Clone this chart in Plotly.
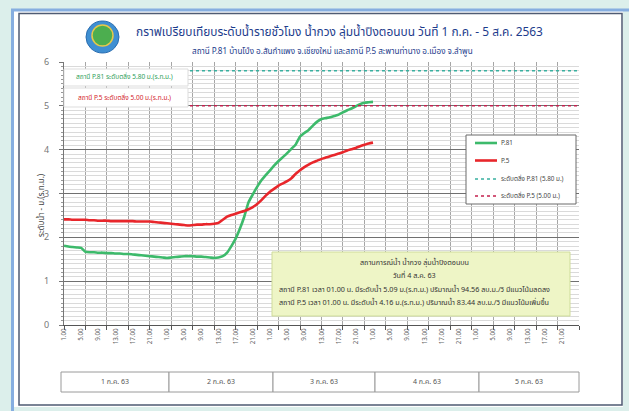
import plotly.graph_objects as go

# ---------------- data ----------------
hour_labels = ["1.00", "5.00", "9.00", "13.00", "17.00", "21.00"] * 5
label_positions = list(range(0, 120, 4))
day_labels = ["1 ก.ค. 63", "2 ก.ค. 63", "3 ก.ค. 63", "4 ก.ค. 63", "5 ก.ค. 63"]

hours = list(range(0, 73))
p81 = [1.81, 1.79, 1.78, 1.77, 1.76, 1.67, 1.66, 1.66, 1.65, 1.65,
       1.64, 1.64, 1.63, 1.63, 1.62, 1.62, 1.61, 1.60, 1.59, 1.58,
       1.57, 1.56, 1.55, 1.54, 1.53, 1.54, 1.55, 1.56, 1.57, 1.57,
       1.57, 1.56, 1.56, 1.55, 1.54, 1.53, 1.54, 1.57, 1.65, 1.80,
       1.97, 2.20, 2.47, 2.80, 2.98, 3.15, 3.30, 3.42, 3.53, 3.64,
       3.74, 3.83, 3.92, 4.02, 4.12, 4.30, 4.38, 4.45, 4.55, 4.64,
       4.70, 4.72, 4.74, 4.77, 4.80, 4.85, 4.90, 4.94, 4.99, 5.04,
       5.07, 5.08, 5.09]
p5 = [2.41, 2.41, 2.40, 2.40, 2.40, 2.40, 2.39, 2.39, 2.38, 2.38,
      2.38, 2.37, 2.37, 2.37, 2.37, 2.37, 2.37, 2.36, 2.36, 2.36,
      2.36, 2.35, 2.34, 2.33, 2.32, 2.31, 2.30, 2.29, 2.28, 2.27,
      2.28, 2.29, 2.29, 2.30, 2.30, 2.31, 2.33, 2.40, 2.47, 2.51,
      2.54, 2.57, 2.60, 2.64, 2.69, 2.76, 2.85, 2.95, 3.04, 3.11,
      3.18, 3.23, 3.28, 3.35, 3.45, 3.53, 3.60, 3.66, 3.71, 3.75,
      3.79, 3.82, 3.85, 3.88, 3.91, 3.94, 3.98, 4.01, 4.04, 4.08,
      4.11, 4.14, 4.16]
bank_p81 = 5.80
bank_p5 = 5.00
threshold_span = [0, 120]
series_names = ["P.81", "P.5", "ระดับตลิ่ง P.81 (5.80 ม.)", "ระดับตลิ่ง P.5 (5.00 ม.)"]

FONT = "Tahoma, 'Noto Sans Thai', 'Leelawadee UI', 'DejaVu Sans', sans-serif"
W, H = 629, 411
L, R, T, B = 64, 50, 62, 86
PW, PH = W - L - R, H - T - B


def px(x):
    return (x - L) / PW


def py(y):
    return (H - B - y) / PH


GREEN = "#3dba6b"
RED = "#e8262b"
GREEN_DOT = "#39b0a0"
RED_DOT = "#c4204e"

fig = go.Figure()
fig.add_trace(go.Scatter(x=hours, y=p81, mode="lines", name=series_names[0],
                         line=dict(color=GREEN, width=2.6, shape="spline", smoothing=0.5)))
fig.add_trace(go.Scatter(x=hours, y=p5, mode="lines", name=series_names[1],
                         line=dict(color=RED, width=2.6, shape="spline", smoothing=0.5)))
fig.add_trace(go.Scatter(x=threshold_span, y=[bank_p81] * 2, mode="lines",
                         name=series_names[2],
                         line=dict(color=GREEN_DOT, width=1.5, dash="dot")))
fig.add_trace(go.Scatter(x=threshold_span, y=[bank_p5] * 2, mode="lines",
                         name=series_names[3],
                         line=dict(color=RED_DOT, width=1.5, dash="dot")))

shapes = []
# outer frame
shapes.append(dict(type="rect", xref="paper", yref="paper", layer="below",
                   x0=px(12), x1=px(623), y0=py(10), y1=py(407),
                   fillcolor="white", line=dict(width=0)))
shapes.append(dict(type="line", xref="paper", yref="paper", layer="below",
                   x0=px(12.5), x1=px(12.5), y0=py(9), y1=py(411),
                   line=dict(color="#86aee0", width=3)))
shapes.append(dict(type="line", xref="paper", yref="paper", layer="below",
                   x0=px(11), x1=px(629), y0=py(10), y1=py(10),
                   line=dict(color="#86aee0", width=3)))
shapes.append(dict(type="rect", xref="paper", yref="paper", layer="below",
                   x0=px(19), x1=px(622), y0=py(13.5), y1=py(405),
                   line=dict(color="#4f5b73", width=1.5)))
# logo
shapes.append(dict(type="circle", xref="paper", yref="paper", layer="above",
                   x0=px(86), x1=px(119), y0=py(21), y1=py(53),
                   fillcolor="#3f8fd2", line=dict(color="#2a6db0", width=1)))
shapes.append(dict(type="circle", xref="paper", yref="paper", layer="above",
                   x0=px(92), x1=px(113), y0=py(25), y1=py(46),
                   fillcolor="#4cae4f", line=dict(color="#e6c84a", width=1.5)))
# threshold label boxes
shapes.append(dict(type="rect", xref="paper", yref="paper", layer="above",
                   x0=px(64), x1=px(188), y0=py(69), y1=py(86),
                   fillcolor="white", line=dict(color="#dddddd", width=1)))
shapes.append(dict(type="rect", xref="paper", yref="paper", layer="above",
                   x0=px(64), x1=px(188), y0=py(88), y1=py(107),
                   fillcolor="white", line=dict(color="#dddddd", width=1)))
# info box
shapes.append(dict(type="rect", xref="paper", yref="paper", layer="above",
                   x0=px(272), x1=px(570), y0=py(252), y1=py(316),
                   fillcolor="#eef5c6", line=dict(color="#cfdc9a", width=1)))
# legend box (drawn manually)
shapes.append(dict(type="rect", xref="paper", yref="paper", layer="above",
                   x0=px(466), x1=px(576), y0=py(135), y1=py(204),
                   fillcolor="white", line=dict(color="#6a6a6a", width=1)))
legend_rows = [143, 160.5, 179, 196]
legend_styles = [(GREEN, 2.6, "solid"), (RED, 2.6, "solid"),
                 (GREEN_DOT, 1.4, "dot"), (RED_DOT, 1.4, "dot")]
for yy, (c, w, d) in zip(legend_rows, legend_styles):
    shapes.append(dict(type="line", xref="paper", yref="paper", layer="above",
                       x0=px(475), x1=px(497), y0=py(yy), y1=py(yy),
                       line=dict(color=c, width=w, dash=d)))
# day boxes
day_edges = [61, 169, 273, 375, 479, 579]
for i in range(5):
    shapes.append(dict(type="rect", xref="paper", yref="paper", layer="above",
                       x0=px(day_edges[i]), x1=px(day_edges[i + 1]),
                       y0=py(372), y1=py(392),
                       fillcolor="white", line=dict(color="#9a9a9a", width=1)))

annotations = []
annotations.append(dict(xref="paper", yref="paper", x=px(339), y=py(42.5),
                        text="กราฟเปรียบเทียบระดับน้ำรายชั่วโมง น้ำกวง ลุ่มน้ำปิงตอนบน วันที่ 1 ก.ค. - 5 ส.ค. 2563",
                        showarrow=False, font=dict(family=FONT, size=11.9, color="#1d3c8c"),
                        xanchor="center", yanchor="bottom"))
annotations.append(dict(xref="paper", yref="paper", x=px(332), y=py(42.5),
                        text="สถานี P.81 บ้านโป่ง อ.สันกำแพง จ.เชียงใหม่ และสถานี P.5 สะพานท่านาง อ.เมือง จ.ลำพูน",
                        showarrow=False, font=dict(family=FONT, size=8.1, color="#1d3c8c"),
                        xanchor="center", yanchor="top"))
annotations.append(dict(xref="paper", yref="paper", x=px(41), y=py(205),
                        text="ระดับน้ำ - ม.(ร.ท.ม.)", textangle=-90,
                        showarrow=False, font=dict(family=FONT, size=8, color="#444444"),
                        xanchor="center", yanchor="middle"))
annotations.append(dict(xref="paper", yref="paper", x=px(124), y=py(77),
                        text="สถานี P.81 ระดับตลิ่ง 5.80 ม.(ร.ท.ม.)",
                        showarrow=False, font=dict(family=FONT, size=6.5, color="#2e9e58"),
                        xanchor="center", yanchor="middle"))
annotations.append(dict(xref="paper", yref="paper", x=px(124), y=py(97.5),
                        text="สถานี P.5 ระดับตลิ่ง 5.00 ม.(ร.ท.ม.)",
                        showarrow=False, font=dict(family=FONT, size=6.5, color="#d3242c"),
                        xanchor="center", yanchor="middle"))
info_lines = [
    (262, "สถานการณ์น้ำ น้ำกวง ลุ่มน้ำปิงตอนบน"),
    (275, "วันที่ 4 ส.ค. 63"),
    (289, "สถานี P.81 เวลา 01.00 น. มีระดับน้ำ 5.09 ม.(ร.ท.ม.) ปริมาณน้ำ 94.56 ลบ.ม./วิ มีแนวโน้มลดลง"),
    (302, "สถานี P.5 เวลา 01.00 น. มีระดับน้ำ 4.16 ม.(ร.ท.ม.) ปริมาณน้ำ 83.44 ลบ.ม./วิ มีแนวโน้มเพิ่มขึ้น"),
]
for yy, tx in info_lines:
    annotations.append(dict(xref="paper", yref="paper", x=px(414), y=py(yy), text=tx,
                            showarrow=False, font=dict(family=FONT, size=7.2, color="#333333"),
                            xanchor="center", yanchor="middle"))
for yy, nm in zip(legend_rows, series_names):
    annotations.append(dict(xref="paper", yref="paper", x=px(499), y=py(yy), text=nm,
                            showarrow=False, font=dict(family=FONT, size=6.3, color="#444444"),
                            xanchor="left", yanchor="middle"))
for i, d in enumerate(day_labels):
    annotations.append(dict(xref="paper", yref="paper",
                            x=px((day_edges[i] + day_edges[i + 1]) / 2), y=py(382), text=d,
                            showarrow=False, font=dict(family=FONT, size=7, color="#555555"),
                            xanchor="center", yanchor="middle"))

fig.update_layout(
    width=W, height=H,
    margin=dict(l=L, r=R, t=T, b=B),
    paper_bgcolor="#dcefeb",
    plot_bgcolor="white",
    font=dict(family=FONT, color="#555555"),
    shapes=shapes,
    annotations=annotations,
    showlegend=False,
)
fig.update_xaxes(
    range=[0, 120], tickmode="array", tickvals=label_positions, ticktext=hour_labels,
    tickangle=-90, tickfont=dict(size=6.2, color="#666666"), ticks="", showgrid=False,
    showline=True, linecolor="#555555", linewidth=1, zeroline=False,
    minor=dict(dtick=5, tick0=0, showgrid=True, gridcolor="#a6a6a6", gridwidth=1,
               ticks="outside", ticklen=4, tickcolor="#555555"),
)
fig.update_yaxes(
    range=[0, 6], dtick=1, tick0=0, showgrid=True, gridcolor="#707070", gridwidth=1,
    ticks="outside", ticklen=4, tickcolor="#777777", ticklabelstandoff=8,
    tickfont=dict(size=9, color="#777777"), zeroline=False,
    showline=True, linecolor="#777777", linewidth=1,
    minor=dict(dtick=0.1, showgrid=True, gridcolor="#dadada", gridwidth=1,
               ticks="outside", ticklen=2, tickcolor="#999999"),
)

fig.write_html("out.html", config={"displayModeBar": False},
               post_script="document.body.style.margin='0';document.body.style.overflow='hidden';")
